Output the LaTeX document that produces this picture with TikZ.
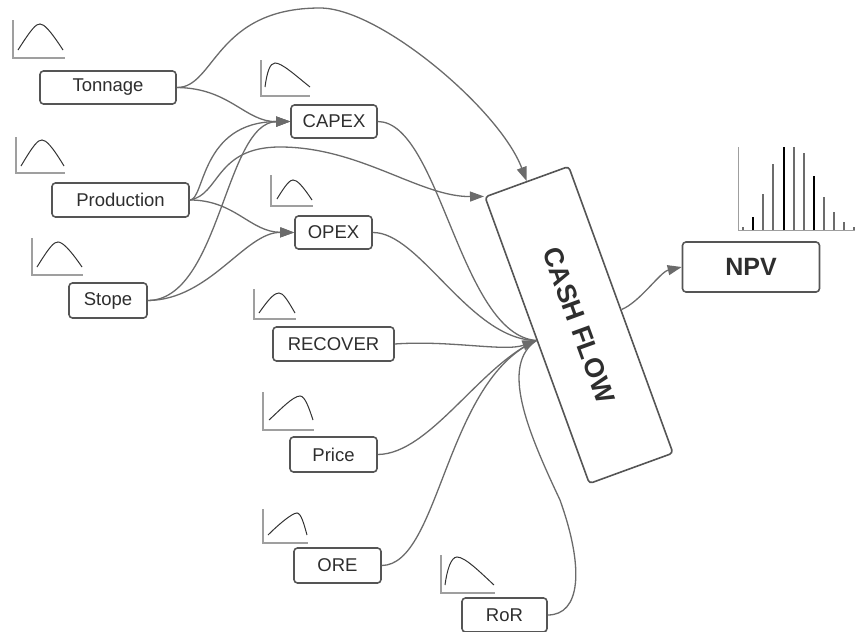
\documentclass[tikz,border=0pt]{standalone}
\usepackage{fontspec}
\setmainfont{Liberation Sans}
\usepackage{xcolor}
\usetikzlibrary{arrows.meta}

\definecolor{linegray}{HTML}{6B6B6B}
\definecolor{boxgray}{HTML}{555555}
\definecolor{textgray}{HTML}{2E2E2E}

\tikzset{
  varbox/.style={rectangle, draw=boxgray, line width=1.6pt, rounded corners=3.5pt, fill=white,
    minimum height=33pt, text=textgray, font=\fontsize{18.5}{21}\selectfont, inner sep=2pt},
  flow/.style={draw=linegray, line width=1.3pt},
  flowarrow/.style={flow, -{Triangle[length=14pt,width=10pt]}},
  axisline/.style={draw=gray!75, line width=1.2pt},
  pdfline/.style={draw=black!80, line width=1pt},
  bar/.style={draw=gray!85!black, line width=1.6pt},
}

\begin{document}
\begin{tikzpicture}[x=1pt, y=-1pt]
\useasboundingbox (0,0) rectangle (855,632);

% input variables
\node[varbox, minimum width=136pt] (tonnage) at (108,87.5) {Tonnage};
\node[varbox, minimum width=137pt, minimum height=34pt] (production) at (120.5,200) {Production};
\node[varbox, minimum width=78pt, minimum height=35pt] (stope) at (108,300.5) {Stope};
\node[varbox, minimum width=86pt] (capex) at (334,121.5) {CAPEX};
\node[varbox, minimum width=77pt] (opex) at (333.5,232.5) {OPEX};
\node[varbox, minimum width=121pt, minimum height=34pt] (recover) at (333.5,344) {RECOVER};
\node[varbox, minimum width=87pt, minimum height=35pt] (price) at (333.5,454.5) {Price};
\node[varbox, minimum width=87pt, minimum height=35pt] (ore) at (337.5,565.5) {ORE};
\node[varbox, minimum width=85pt, minimum height=34pt] (ror) at (504.5,615) {RoR};

% model and output
\node[varbox, rotate=-70, minimum width=305pt, minimum height=89pt,
  font=\bfseries\fontsize{27}{30}\selectfont] (cashflow) at (579,325) {CASH FLOW};
\node[varbox, minimum width=137pt, minimum height=50pt,
  font=\bfseries\fontsize{25}{30}\selectfont] (npv) at (751,267) {NPV};

% distribution icons
\draw[axisline] (13,20) |- (65,58);
\draw[pdfline] (18,50) .. controls (32,28) and (36,24) .. (40,24) .. controls (44,24) and (50,30) .. (63,50);
\draw[axisline] (16,137) |- (65,173);
\draw[pdfline] (21,166) .. controls (34,144) and (38,140) .. (42,140) .. controls (46,140) and (52,146) .. (64,166);
\draw[axisline] (32,238) |- (83,275);
\draw[pdfline] (37,267) .. controls (50,246) and (54,242) .. (58,242) .. controls (62,242) and (69,248) .. (82,267);
\draw[axisline] (261,60) |- (310,96);
\draw[pdfline] (265,87) .. controls (267,72) and (270,63) .. (275,63) .. controls (282,63) and (295,75) .. (310,87);
\draw[axisline] (271,175) |- (313,206);
\draw[pdfline] (277,199) .. controls (286,184) and (290,180) .. (293,180) .. controls (297,180) and (302,185) .. (312,200);
\draw[axisline] (254,289) |- (296,319);
\draw[pdfline] (259,313) .. controls (270,297) and (275,293) .. (279,293) .. controls (283,293) and (287,299) .. (295,313);
\draw[axisline] (263,392) |- (314,430);
\draw[pdfline] (269,420) .. controls (280,410) and (293,396) .. (300,396) .. controls (305,396) and (309,408) .. (313,420);
\draw[axisline] (263,509) |- (308,543);
\draw[pdfline] (268,535) .. controls (278,525) and (292,513) .. (297,513) .. controls (301,513) and (304,524) .. (307,535);
\draw[axisline] (441,555) |- (495,593);
\draw[pdfline] (445,585) .. controls (447,570) and (451,557) .. (457,557) .. controls (465,557) and (480,572) .. (494,585);

% NPV histogram
\draw[axisline, line width=1pt] (738,147) |- (855,230);
\draw[bar] (743,230) -- (743,227) (763,230) -- (763,194) (773,230) -- (773,164)
  (794,230) -- (794,147) (804,230) -- (804,153) (824,230) -- (824,197)
  (834,230) -- (834,212) (844,230) -- (844,222) (854,230) -- (854,227);
\draw[bar, draw=black] (753,230) -- (753,217) (784,230) -- (784,147) (814,230) -- (814,176);

% connectors
\draw[flowarrow] (tonnage.east) .. controls (215,88) and (215,8) .. (320,8)
  .. controls (380,8) and (500,110) .. (cashflow.west);
\draw[flowarrow] (tonnage.east) .. controls (230,88) and (245,122) .. (capex.west);
\draw[flowarrow] (production.east) .. controls (205,200) and (200,122) .. (capex.west);
\draw[flowarrow] (stope.east) .. controls (220,300) and (225,122) .. (capex.west);
\draw[flowarrow] (production.east) .. controls (235,200) and (250,232) .. (opex.west);
\draw[flowarrow] (stope.east) .. controls (210,300) and (245,232) .. (opex.west);
\draw[flowarrow] (production.east) .. controls (220,195) and (215,147) .. (280,147)
  .. controls (360,147) and (420,197) .. (cashflow.south west);
\draw[flow] (capex.east) .. controls (440,122) and (460,335) .. (cashflow.south);
\draw[flow] (opex.east) .. controls (420,232) and (470,340) .. (cashflow.south);
\draw[flow] (price.east) .. controls (430,454) and (480,365) .. (cashflow.south);
\draw[flow] (ore.east) .. controls (440,565) and (445,380) .. (cashflow.south);
\draw[flow] (ror.east) .. controls (580,615) and (585,570) .. (560,500)
  .. controls (527,430) and (500,365) .. (cashflow.south);
\draw[flowarrow] (recover.east) .. controls (450,340) and (505,352) .. (cashflow.south);
\draw[flowarrow] (cashflow.north) .. controls (640,302) and (660,272) .. (npv.west);
\end{tikzpicture}
\end{document}
